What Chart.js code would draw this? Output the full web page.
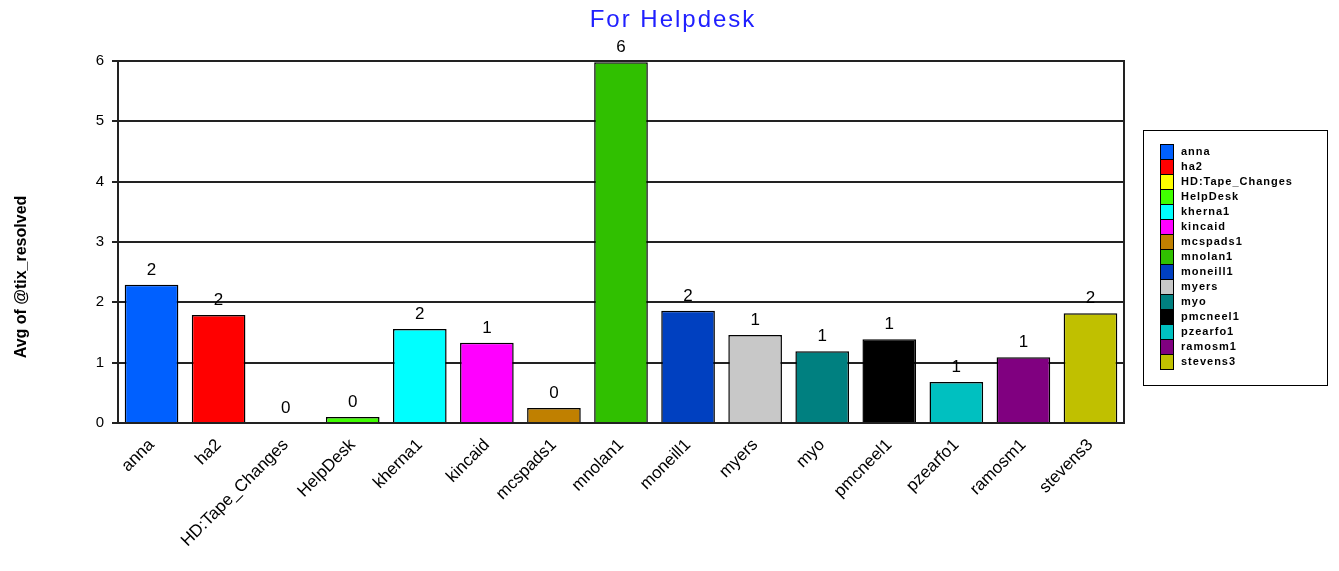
<!DOCTYPE html>
<html>
<head>
<meta charset="utf-8">
<script src="https://cdn.jsdelivr.net/npm/chart.js@4/dist/chart.umd.min.js"></script>
<style>
  html, body { margin: 0; padding: 0; background: #fff; }
  #wrap { width: 1339px; height: 571px; position: relative; }
</style>
</head>
<body>
<div id="wrap"><canvas id="c"></canvas></div>
<script>
const names = ['anna', 'ha2', 'HD:Tape_Changes', 'HelpDesk', 'kherna1', 'kincaid', 'mcspads1',
  'mnolan1', 'moneill1', 'myers', 'myo', 'pmcneel1', 'pzearfo1', 'ramosm1', 'stevens3'];
const avgResolved = [2.29, 1.79, 0, 0.1, 1.56, 1.33, 0.25, 5.98, 1.86, 1.46, 1.19, 1.39, 0.68, 1.09, 1.82];
const barColors = ['#0060ff', '#ff0000', '#ffff00', '#40ff00', '#00ffff', '#ff00ff', '#c08000',
  '#30c000', '#0040c0', '#c8c8c8', '#008080', '#000000', '#00c0c0', '#800080', '#c0c000'];
const yTicks = [0, 1, 2, 3, 4, 5, 6];
const chartTitle = 'For Helpdesk';
const yTitle = 'Avg of @tix_resolved';

const FONT = '"Liberation Sans", Arial, sans-serif';

// Titel, Achsentitel, Rahmen, Werte über den Balken und Legendenkasten
const decorations = {
  id: 'decorations',
  afterDatasetsDraw(chart) {
    const { ctx, chartArea: a } = chart;
    ctx.save();
    ctx.strokeStyle = '#222';
    ctx.lineWidth = 2;
    ctx.strokeRect(a.left, a.top, a.right - a.left, a.bottom - a.top);

    /* Titel über die ganze Breite zentriert */
    ctx.save();
    ctx.fillStyle = '#2020ff';
    ctx.font = '24px ' + FONT;
    ctx.letterSpacing = '2px';
    ctx.textAlign = 'center';
    ctx.textBaseline = 'middle';
    ctx.fillText(chartTitle, 673, 20);
    ctx.restore();

    /* y-Achsentitel */
    ctx.save();
    ctx.translate(22, 277);
    ctx.rotate(-Math.PI / 2);
    ctx.fillStyle = '#000';
    ctx.font = 'bold 16px ' + FONT;
    ctx.textAlign = 'center';
    ctx.textBaseline = 'middle';
    ctx.fillText(yTitle, 0, 0);
    ctx.restore();

    const meta = chart.getDatasetMeta(0);
    ctx.fillStyle = '#000';
    ctx.font = '17px ' + FONT;
    ctx.textAlign = 'center';
    ctx.textBaseline = 'bottom';
    meta.data.forEach((bar, i) => {
      ctx.fillText(String(Math.round(avgResolved[i])), bar.x, bar.y - 6);
    });

    /* Legende */
    const lx = 1143, ly = 130, lw = 184, lh = 255;
    ctx.fillStyle = '#fff';
    ctx.fillRect(lx, ly, lw, lh);
    ctx.strokeStyle = '#000';
    ctx.lineWidth = 1;
    ctx.strokeRect(lx + 0.5, ly + 0.5, lw, lh);
    ctx.font = 'bold 11px ' + FONT;
    ctx.letterSpacing = '1px';
    ctx.textAlign = 'left';
    ctx.textBaseline = 'middle';
    names.forEach((n, i) => {
      const cy = 152 + i * 15;
      ctx.fillStyle = barColors[i];
      ctx.fillRect(1161, cy - 7, 12, 14);
      ctx.strokeStyle = '#000';
      ctx.strokeRect(1160.5, cy - 7.5, 13, 15);
      ctx.fillStyle = '#000';
      ctx.fillText(n, 1181, cy);
    });
    ctx.restore();
  }
};

new Chart(document.getElementById('c'), {
  type: 'bar',
  data: {
    labels: names,
    datasets: [{
      label: yTitle,
      data: avgResolved,
      backgroundColor: barColors,
      borderColor: '#000',
      borderWidth: 1.5,
      barPercentage: 0.8,
      categoryPercentage: 1.0,
    }],
  },
  options: {
    responsive: true, maintainAspectRatio: false, animation: false,
    layout: { padding: { left: 0, right: 215, top: 61, bottom: 0 } },
    plugins: {
      legend: { display: false },
      tooltip: { enabled: false },
      title: { display: false },
    },
    scales: {
      x: {
        grid: { display: false },
        border: { display: false },
        ticks: {
          color: '#000', minRotation: 45, maxRotation: 45, autoSkip: false, padding: 4,
          font: { size: 17, family: FONT },
        },
        afterFit: s => { s.height = 148; },
      },
      y: {
        min: 0, max: 6,
        afterBuildTicks: s => { s.ticks = yTicks.map(v => ({ value: v })); },
        grid: { color: '#222', lineWidth: 2, tickLength: 6 },
        border: { display: false },
        ticks: {
          color: '#000', padding: 8,
          font: { size: 15, family: FONT },
        },
        afterFit: s => { s.width = 118; },
      },
    },
  },
  plugins: [decorations],
});
</script>
</body>
</html>
